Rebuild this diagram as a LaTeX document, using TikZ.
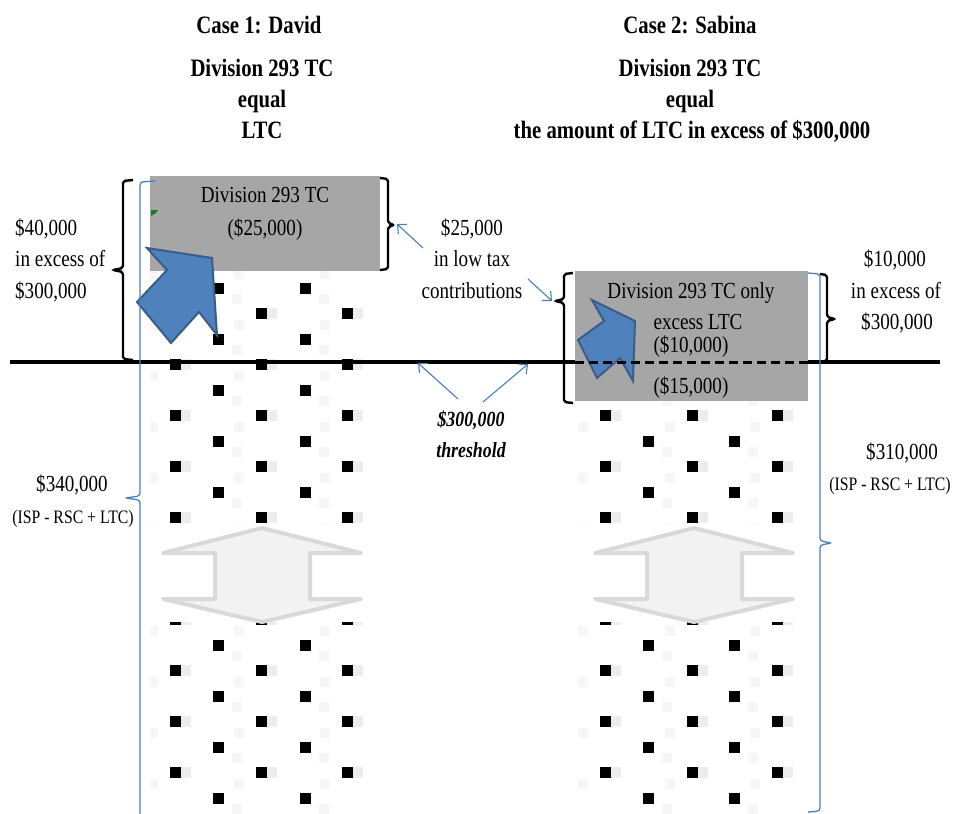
\documentclass[tikz,border=0pt]{standalone}
\usepackage{fontspec}
\setmainfont[FakeStretch=0.83]{Liberation Serif}
\usetikzlibrary{arrows.meta}
\definecolor{boxgray}{HTML}{A6A6A6}
\definecolor{arrblue}{HTML}{4F81BD}
\definecolor{arrblueline}{HTML}{385D8A}
\definecolor{linkblue}{HTML}{4A7EBB}
\definecolor{dafill}{HTML}{F2F2F2}
\definecolor{daline}{HTML}{D9D9D9}
\definecolor{markgreen}{HTML}{1E7B1E}
\definecolor{noise}{HTML}{EDEDED}
\definecolor{noisetwo}{HTML}{F6F6F6}
\tikzset{
  txt/.style={font=\fontsize{23}{27}\selectfont, anchor=base, inner sep=0pt},
  txtl/.style={txt, anchor=base west},
  ttl/.style={font=\fontsize{25}{29}\selectfont\bfseries, anchor=base, inner sep=0pt},
  smalltxt/.style={font=\fontsize{19}{22}\selectfont, anchor=base, inner sep=0pt},
  thr/.style={font=\fontsize{21.5}{24}\selectfont\bfseries\itshape, anchor=base, inner sep=0pt},
  gbox/.style={fill=boxgray, draw=none, inner sep=0pt},
  bigarrow/.style={fill=arrblue, draw=arrblueline, line width=2pt, line join=miter},
  dblarrow/.style={fill=dafill, draw=daline, line width=4pt, line join=round},
  blackbrace/.style={draw=black, line width=2.4pt, rounded corners=2pt},
  bluebrace/.style={draw=linkblue, line width=1.3pt, rounded corners=3pt},
  link/.style={draw=linkblue, line width=1.1pt, -{Straight Barb[length=7pt,width=13pt]}},
  sqdot/.style={fill=black}
}
\begin{document}
\begin{tikzpicture}[x=1pt,y=-1pt]
\useasboundingbox (0,0) rectangle (956,814);

% ---- dotted pattern columns (with faint texture) ----
\begin{scope}
\clip (150,176) rectangle (380,524);
\foreach \k in {-2,...,5} {
  \foreach \xx in {175,261,347} {\fill[noise] (\xx+5.5,313+51*\k-5.5) rectangle ++(10,11);
    \fill[noisetwo] (\xx-27,313+51*\k+7) rectangle ++(10,10);
    \fill[sqdot] (\xx-5.5,313+51*\k-5.5) rectangle ++(11,11);}
  \foreach \xx in {218,305} {\fill[noisetwo] (\xx+14,288+51*\k+6) rectangle ++(10,10);
    \fill[sqdot] (\xx-5.5,288+51*\k-5.5) rectangle ++(11,11);}
}
\end{scope}
\begin{scope}
\clip (150,622) rectangle (380,814);
\foreach \k in {5,...,11} {
  \foreach \xx in {175,261,347} {\fill[noise] (\xx+5.5,313+51*\k-5.5) rectangle ++(10,11);
    \fill[noisetwo] (\xx-27,313+51*\k+7) rectangle ++(10,10);
    \fill[sqdot] (\xx-5.5,313+51*\k-5.5) rectangle ++(11,11);}
  \foreach \xx in {218,305} {\fill[noisetwo] (\xx+14,288+51*\k+6) rectangle ++(10,10);
    \fill[sqdot] (\xx-5.5,288+51*\k-5.5) rectangle ++(11,11);}
}
\end{scope}
\begin{scope}
\clip (575,401) rectangle (808,524);
\foreach \k in {1,...,5} {
  \foreach \xx in {605,692,777} {\fill[noise] (\xx+5.5,313+51*\k-5.5) rectangle ++(10,11);
    \fill[noisetwo] (\xx-27,313+51*\k+7) rectangle ++(10,10);
    \fill[sqdot] (\xx-5.5,313+51*\k-5.5) rectangle ++(11,11);}
  \foreach \xx in {648,734} {\fill[noisetwo] (\xx+14,288+51*\k+6) rectangle ++(10,10);
    \fill[sqdot] (\xx-5.5,288+51*\k-5.5) rectangle ++(11,11);}
}
\end{scope}
\begin{scope}
\clip (575,622) rectangle (808,814);
\foreach \k in {5,...,11} {
  \foreach \xx in {605,692,777} {\fill[noise] (\xx+5.5,313+51*\k-5.5) rectangle ++(10,11);
    \fill[noisetwo] (\xx-27,313+51*\k+7) rectangle ++(10,10);
    \fill[sqdot] (\xx-5.5,313+51*\k-5.5) rectangle ++(11,11);}
  \foreach \xx in {648,734} {\fill[noisetwo] (\xx+14,288+51*\k+6) rectangle ++(10,10);
    \fill[sqdot] (\xx-5.5,288+51*\k-5.5) rectangle ++(11,11);}
}
\end{scope}

% ---- double arrows ----
\draw[dblarrow] (262,528) -- (361,553) -- (310,553) -- (310,599) -- (361,599) -- (262,622)
  -- (163,599) -- (215,599) -- (215,553) -- (163,553) -- cycle;
\draw[dblarrow] (694,528) -- (793,553) -- (742,553) -- (742,599) -- (793,599) -- (694,622)
  -- (595,599) -- (647,599) -- (647,553) -- (595,553) -- cycle;

% ---- gray boxes ----
\node[gbox, minimum width=230pt, minimum height=95pt] (boxD) at (265,223.5) {};
\node[gbox, minimum width=233pt, minimum height=130pt] (boxS) at (691.5,336) {};

% ---- titles ----
\node[ttl] (t1a) at (259,33) {Case 1: David};
\node[ttl] (t1b) at (262,76) {Division 293 TC};
\node[ttl] (t1c) at (262,107) {equal};
\node[ttl] (t1d) at (262,138) {LTC};
\node[ttl] (t2a) at (690,33) {Case 2: Sabina};
\node[ttl] (t2b) at (690,76) {Division 293 TC};
\node[ttl] (t2c) at (690,107) {equal};
\node[ttl] (t2d) at (692,138) {the amount of LTC in excess of \$300,000};

% ---- box texts ----
\node[txt] (d1) at (265,202) {Division 293 TC};
\node[txt] (d2) at (265,235) {(\$25,000)};
\node[txt] (s1) at (691,298) {Division 293 TC only};
\node[txt] (s2) at (698,329) {excess LTC};
\node[txt] (s3) at (691,352) {(\$10,000)};
\node[txt] (s4) at (691,393) {(\$15,000)};

% ---- side texts ----
\node[txtl] (l1) at (15,235) {\$40,000};
\node[txtl] (l2) at (15,266) {in excess of};
\node[txtl] (l3) at (15,298) {\$300,000};
\node[txt] (m1) at (472,235) {\$25,000};
\node[txt] (m2) at (472,266) {in low tax};
\node[txt] (m3) at (472,298) {contributions};
\node[txt] (r1) at (895,266) {\$10,000};
\node[txt] (r2) at (896,298) {in excess of};
\node[txt] (r3) at (897,329) {\$300,000};
\node[txt] (q1) at (72,491) {\$340,000};
\node[smalltxt] (q2) at (73,523) {(ISP - RSC + LTC)};
\node[txt] (p1) at (902,459) {\$310,000};
\node[smalltxt] (p2) at (890,490) {(ISP - RSC + LTC)};
\node[thr] (th1) at (471,426) {\$300,000};
\node[thr] (th2) at (471,457) {threshold};

% ---- blue block arrows ----
\draw[bigarrow] (147,248) -- (212,258) -- (217,335) -- (199,312) -- (171,343) -- (137,302) -- (167,270) -- cycle;
\draw[bigarrow] (592,300) -- (635,321) -- (633,381) -- (620,358) -- (597,378) -- (578,340) -- (604,321) -- cycle;
\fill[markgreen] (151,210) -- (158,210) -- (156,213) -- (151,216) -- cycle;

% ---- threshold line ----
\coordinate (thL) at (10,362);
\coordinate (thR) at (940,362);
\draw[line width=4.5pt] (thL) -- (575,362);
\draw[line width=4.5pt] (808,362) -- (thR);
\draw[line width=3pt, dash pattern=on 9pt off 5pt] (575,362) -- (808,362);

% ---- black braces ----
\draw[blackbrace] (133,180) -- (123,181) -- (123,268) -- (113,270) -- (123,272) -- (123,359) -- (133,360);
\draw[blackbrace] (380,178) -- (388,179) -- (388,223) -- (394,225) -- (388,227) -- (388,269) -- (380,270);
\draw[blackbrace] (573,273) -- (564,274) -- (564,299) -- (555,301) -- (564,303) -- (564,402) -- (573,403);
\draw[blackbrace] (820,274) -- (827,275) -- (827,317) -- (835,319) -- (827,321) -- (827,361) -- (820,362);

% ---- blue braces ----
\draw[bluebrace] (155,181) -- (140,182) -- (140,496) -- (125,498) -- (140,500) -- (140,830);
\draw[bluebrace] (808,273) -- (820,274) -- (820,541) -- (832,543) -- (820,545) -- (820,811) -- (808,812);

% ---- connector arrows ----
\coordinate (a1s) at (423,248);  \coordinate (a1e) at (397,224);
\coordinate (a2s) at (528,279);  \coordinate (a2e) at (552,301);
\coordinate (a3s) at (458,399);  \coordinate (a3e) at (418,363);
\coordinate (a4s) at (483,402);  \coordinate (a4e) at (528,364);
\draw[link] (a1s) -- (a1e);
\draw[link] (a2s) -- (a2e);
\draw[link] (a3s) -- (a3e);
\draw[link] (a4s) -- (a4e);
\end{tikzpicture}
\end{document}
